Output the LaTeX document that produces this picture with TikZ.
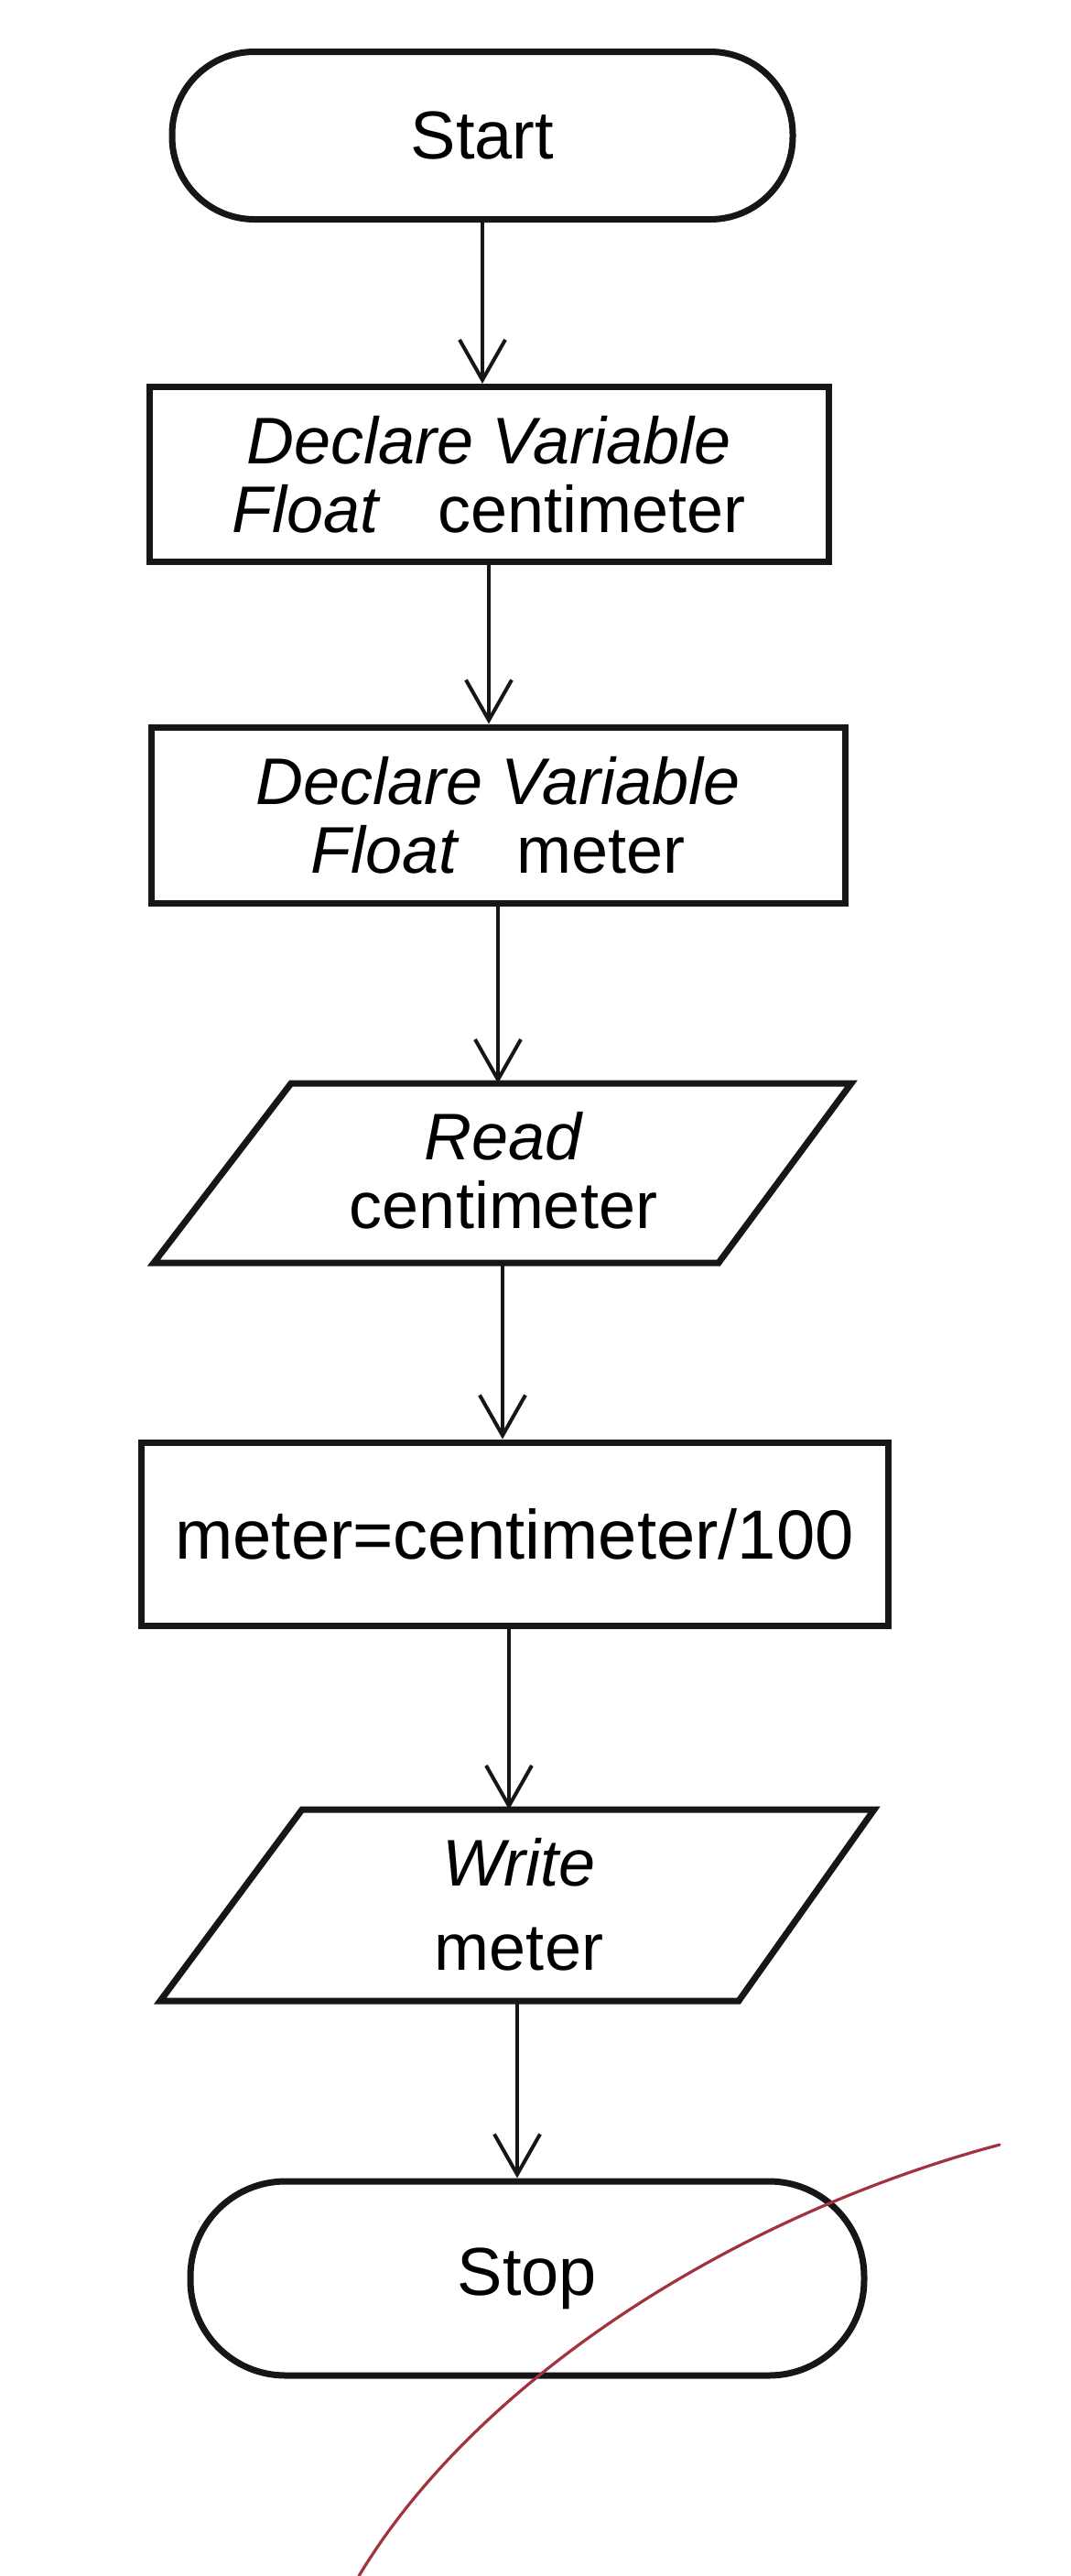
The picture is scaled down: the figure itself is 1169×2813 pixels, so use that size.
\documentclass[tikz,border=0pt]{standalone}
\usepackage{fontspec}
\setmainfont{Liberation Sans}
\usetikzlibrary{arrows.meta,calc}
\definecolor{ink}{HTML}{161616}
\definecolor{pen}{HTML}{A3323F}
\begin{document}
\begin{tikzpicture}[x=0.5pt,y=-0.5pt,
  shapeline/.style={draw=ink, line width=3.5pt, line join=miter},
  term/.style={shapeline, rectangle, rounded corners=45pt, inner sep=0pt, font=\fontsize{37}{40}\selectfont},
  procbox/.style={shapeline, rectangle, inner sep=0pt, align=center},
  iotext/.style={inner sep=0pt, align=center},
  two/.style={font=\fontsize{36}{37.5}\selectfont},
  arr/.style={draw=ink, line width=2pt, -{Straight Barb[length=22pt,width=25pt,line width=2pt]}}
]
\fill[white] (0,0) rectangle (1169,2813);
\useasboundingbox (0,0) rectangle (1169,2813);

% Terminal: Start
\node[term, minimum width=339pt, minimum height=91.5pt] (start) at (527,148) {Start};

% Declarations
\node[procbox, two, minimum width=371pt, minimum height=95.5pt] (decl1) at (534,518)
  {{\itshape Declare Variable}\\{\itshape Float}\hspace{0.9em}centimeter};
\node[procbox, two, minimum width=379pt, minimum height=96pt] (decl2) at (544,890)
  {{\itshape Declare Variable}\\{\itshape Float}\hspace{0.9em}meter};

% Input parallelogram
\draw[shapeline] (318,1183) -- (930,1183) -- (785,1379) -- (168,1379) -- cycle;
\node[iotext, two] (read) at (550,1278) {{\itshape Read}\\centimeter};
\coordinate (readN) at (544,1183);
\coordinate (readS) at (549,1379);

% Process
\node[procbox, minimum width=408pt, minimum height=100pt, font=\fontsize{38}{40}\selectfont] (calc) at (562,1675)
  {meter=centimeter/100};

% Output parallelogram
\draw[shapeline] (330,1976) -- (955,1976) -- (807,2185) -- (175,2185) -- cycle;
\node[iotext, font=\fontsize{36}{46}\selectfont] (write) at (567,2080) {{\itshape Write}\\meter};
\coordinate (writeN) at (556,1976);
\coordinate (writeS) at (565,2185);

% Terminal: Stop
\node[term, minimum width=368pt, minimum height=106pt, rounded corners=52pt] (stop) at (576,2488) {Stop};

% Connectors
\draw[arr] (start.south) -- (start.south |- decl1.north);
\draw[arr] (decl1.south) -- (decl1.south |- decl2.north);
\draw[arr] (decl2.south -| readN) -- (readN);
\draw[arr] (readS) -- (readS |- calc.north);
\draw[arr] (writeN |- calc.south) -- (writeN);
\draw[arr] (writeS) -- (writeS |- stop.north);

% Pen mark
\draw[pen, line width=1.6pt, line cap=round] (1092,2342) .. controls (800,2420) and (520,2600) .. (392,2813);
\end{tikzpicture}
\end{document}
